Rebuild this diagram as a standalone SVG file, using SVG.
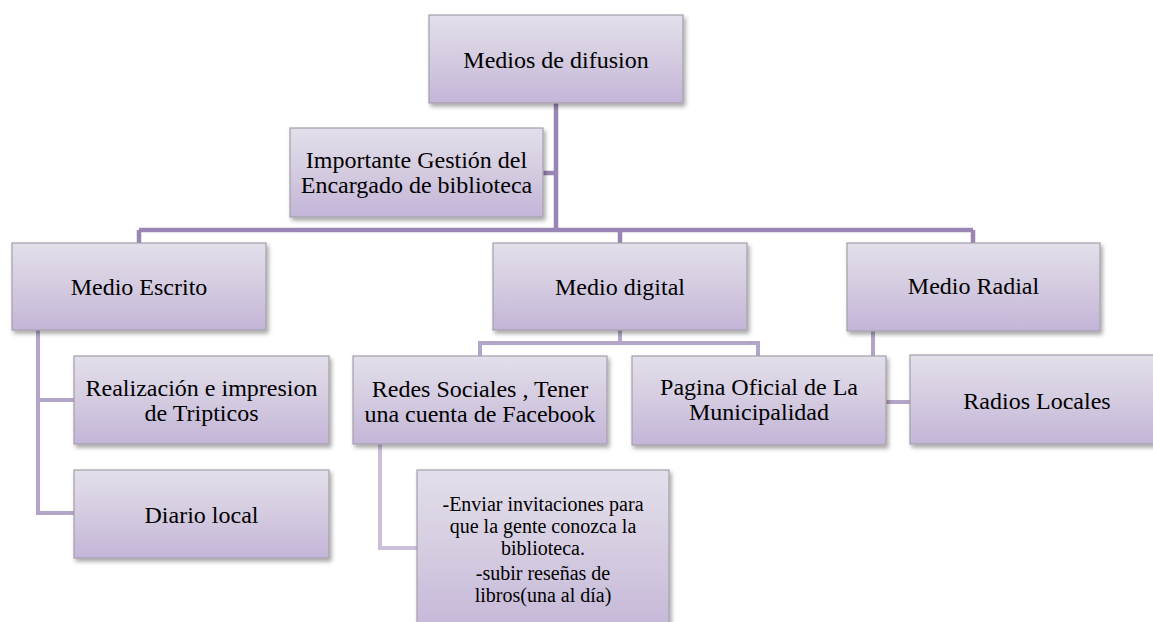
<svg xmlns="http://www.w3.org/2000/svg" width="1153" height="622" viewBox="0 0 1153 622">
<defs>
<linearGradient id="g" x1="0" y1="0" x2="0" y2="1">
<stop offset="0" stop-color="#e3dfea"/>
<stop offset="0.5" stop-color="#d4cbe0"/>
<stop offset="1" stop-color="#c3b5d8"/>
</linearGradient>
<filter id="sh" x="-10%" y="-10%" width="125%" height="130%">
<feDropShadow dx="2" dy="3" stdDeviation="2" flood-color="#000" flood-opacity="0.35"/>
</filter>
<style>
.box{fill:url(#g);stroke:#a39fa8;stroke-width:1.2;filter:url(#sh)}
text{font-family:'Liberation Serif',serif;font-size:24px;fill:#000;text-anchor:middle}
.s{font-size:20px}
.c1{fill:none;stroke:#9a85b4;stroke-width:4.5}
.c2{fill:none;stroke:#b3a5c8;stroke-width:4}
.c3{fill:none;stroke:#cbc0d9;stroke-width:4}
</style>
</defs>
<rect width="1153" height="622" fill="#fff"/>
<g id="connectors">
<path class="c1" d="M556 103 V230 M543 173 H556 M139 230 H973 M139 230 V243 M620 230 V243 M973 230 V243"/>
<path class="c2" d="M38 330 V513 H74 M38 400 H74"/>
<path class="c2" d="M620 330 V343 M480 356 V343 H758 V356"/>
<path class="c2" d="M873 331 V402 H910"/>
<path class="c3" d="M380 444 V548 H417"/>
</g>
<g id="n-medios">
<rect class="box" x="429" y="15" width="254" height="88"/>
<text x="556" y="68">Medios de difusion</text>
</g>
<g id="n-importante">
<rect class="box" x="290" y="128" width="253" height="89"/>
<text x="416.5" y="168">Importante Gestión del</text>
<text x="416.5" y="193">Encargado de biblioteca</text>
</g>
<g id="n-escrito">
<rect class="box" x="12" y="243" width="254" height="87"/>
<text x="139" y="295">Medio Escrito</text>
</g>
<g id="n-digital">
<rect class="box" x="493" y="243" width="254" height="87"/>
<text x="620" y="295">Medio digital</text>
</g>
<g id="n-radial">
<rect class="box" x="847" y="243" width="253" height="88"/>
<text x="973.5" y="294">Medio Radial</text>
</g>
<g id="n-realizacion">
<rect class="box" x="74" y="356" width="255" height="88"/>
<text x="201.5" y="396">Realización e impresion</text>
<text x="201.5" y="421">de Tripticos</text>
</g>
<g id="n-diario">
<rect class="box" x="74" y="470" width="255" height="88"/>
<text x="201.5" y="523">Diario local</text>
</g>
<g id="n-redes">
<rect class="box" x="353" y="356" width="254" height="88"/>
<text x="480" y="397">Redes Sociales , Tener</text>
<text x="480" y="422">una cuenta de Facebook</text>
</g>
<g id="n-pagina">
<rect class="box" x="632" y="356" width="254" height="89"/>
<text x="759" y="395">Pagina Oficial de La</text>
<text x="759" y="420">Municipalidad</text>
</g>
<g id="n-radios">
<rect class="box" x="910" y="355" width="254" height="89"/>
<text x="1037" y="409">Radios Locales</text>
</g>
<g id="n-enviar">
<rect class="box" x="417" y="470" width="252" height="170"/>
<text class="s" x="543" y="511">-Enviar invitaciones para</text>
<text class="s" x="543" y="533">que la gente conozca la</text>
<text class="s" x="543" y="555">biblioteca.</text>
<text class="s" x="543" y="580">-subir reseñas de</text>
<text class="s" x="543" y="602">libros(una al día)</text>
</g>
</svg>
